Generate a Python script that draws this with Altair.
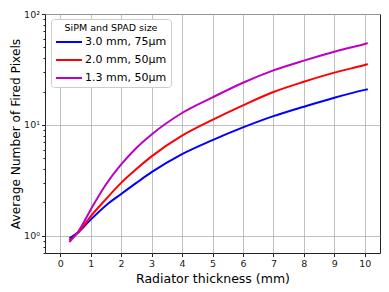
import altair as alt
import pandas as pd

thickness = [0.3, 0.6, 1, 1.5, 2, 2.5, 3, 4, 5, 6, 7, 8, 9, 10, 10.1]
blue_3mm_75um = [0.95, 1.08, 1.40, 1.88, 2.38, 3.0, 3.75, 5.45, 7.3, 9.5, 12.0, 14.6, 17.6, 20.7, 21.0]
red_2mm_50um = [0.91, 1.08, 1.50, 2.14, 3.0, 4.0, 5.2, 8.0, 11.1, 15.0, 19.8, 24.5, 29.6, 34.7, 35.3]
mag_13mm_50um = [0.88, 1.10, 1.72, 2.9, 4.4, 6.2, 8.2, 12.8, 17.7, 24.0, 31.0, 38.0, 45.7, 53.7, 54.6]

series_names = ["3.0 mm, 75μm", "2.0 mm, 50μm", "1.3 mm, 50μm"]
series_colors = ["#0000ff", "#ff0000", "#bf00bf"]

rows = []
for name, vals in zip(series_names, [blue_3mm_75um, red_2mm_50um, mag_13mm_50um]):
    for i, (x, y) in enumerate(zip(thickness, vals)):
        rows.append({"x": x, "y": y, "series": name, "order": i})
df = pd.DataFrame(rows)

y_ticks = [0.7, 0.8, 0.9, 1, 2, 3, 4, 5, 6, 7, 8, 9, 10, 20, 30, 40, 50, 60, 70, 80, 90, 100]
major_test = "datum.value == 1 || datum.value == 10 || datum.value == 100"

font = "DejaVu Sans"

chart = alt.Chart(df).mark_line(strokeWidth=2, interpolate="monotone").encode(
    x=alt.X("x:Q", scale=alt.Scale(domain=[-0.5, 10.5], nice=False, zero=False),
            axis=alt.Axis(title="Radiator thickness (mm)", values=list(range(0, 11)),
                          domain=False, tickSize=3.5, tickColor="#222", labelFontSize=9.5,
                          labelColor="#222", labelPadding=2, titleFontSize=12.5,
                          titleFontWeight="normal", titleColor="#000", titlePadding=4,
                          gridColor="#b0b0b0", gridWidth=0.8, labelFont=font, titleFont=font)),
    y=alt.Y("y:Q", scale=alt.Scale(type="log", domain=[0.7, 100], nice=False),
            axis=alt.Axis(title="Average Number of Fired Pixels", values=y_ticks,
                          labelExpr="datum.value == 1 ? '10⁰' : datum.value == 10 ? '10¹' : datum.value == 100 ? '10²' : ''",
                          domain=False,
                          tickSize={"condition": {"test": major_test, "value": 3.5}, "value": 2},
                          gridOpacity={"condition": {"test": major_test, "value": 1}, "value": 0},
                          tickColor="#222", labelFontSize=9.5, labelColor="#222", labelPadding=2,
                          titleFontSize=12.2, titleFontWeight="normal", titleColor="#000",
                          titlePadding=1, gridColor="#b0b0b0", gridWidth=0.8,
                          labelFont=font, titleFont=font)),
    color=alt.Color("series:N",
                    scale=alt.Scale(domain=series_names, range=series_colors),
                    legend=alt.Legend(title="SiPM and SPAD size", orient="none",
                                      legendX=6, legendY=5, symbolType="M-1,0H3",
                                      symbolSize=169, symbolStrokeWidth=2,
                                      labelFontSize=11, labelFont=font, titleFont=font,
                                      titleFontSize=9.5, titleFontWeight="normal",
                                      titleColor="#000", labelColor="#000",
                                      fillColor="white", strokeColor="#cccccc",
                                      cornerRadius=3, padding=4, rowPadding=5,
                                      titleAnchor="middle", titlePadding=2,
                                      labelOffset=15)),
    order="order:Q",
).properties(
    width=335, height=239,
    autosize=alt.AutoSizeParams(type="none"),
    padding={"left": 37, "top": 6, "right": 1, "bottom": 31},
).configure_view(stroke="#222", strokeWidth=1)

chart.save("out.html", embed_options={"renderer": "svg", "actions": False})
